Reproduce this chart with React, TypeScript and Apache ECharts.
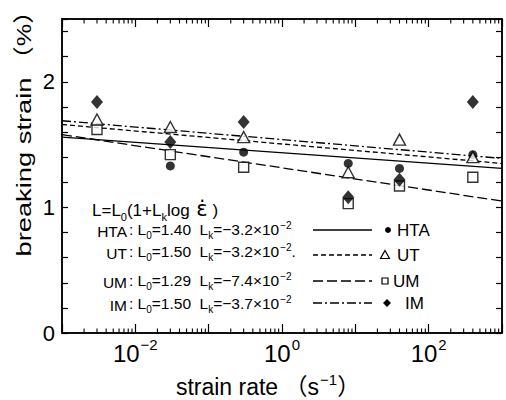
import React, { useEffect, useRef } from 'react';
import * as echarts from 'echarts';

// ---- data ----
const strainRates = [0.003, 0.03, 0.3, 8, 40, 400];
const htaValues: (number | null)[] = [null, 1.33, 1.44, 1.35, 1.31, 1.42];
const utValues: (number | null)[] = [1.70, 1.64, 1.56, 1.28, 1.54, 1.40];
const umValues: (number | null)[] = [1.62, 1.42, 1.32, 1.03, 1.17, 1.24];
const imValues: (number | null)[] = [1.84, 1.52, 1.68, 1.08, 1.22, 1.84];

// fitted lines, values at the two ends of the axis
const fitRates = [0.001, 1000];
const htaFit = [1.56, 1.31];
const utFit = [1.66, 1.35];
const umFit = [1.58, 1.05];
const imFit = [1.69, 1.39];

// axes
const xMin = 0.001;
const xMax = 1000;
const yMin = 0;
const yMax = 2.5;
const yInterval = 0.2;
const xLabelValues = [0.01, 1, 100];
const xLabelExponents = ['−2', '0', '2'];
const yLabelValues = [0, 1, 2];
const decades = [0.001, 0.01, 0.1, 1, 10, 100];
const minorSteps = [2, 3, 4, 5, 6, 7, 8, 9];

// legend block
const legendNames = ['HTA', 'UT', 'UM', 'IM'];
const legendL0 = ['1.40', '1.50', '1.29', '1.50'];
const legendLk = ['−3.2', '−3.2', '−7.4', '−3.7'];
const legendTail = ['', '.', '', ''];

const FONT = '"Liberation Sans", Arial, Helvetica, "Noto Sans CJK JP", sans-serif';
const INK = '#000';

const pairs = (vals: (number | null)[]) =>
  strainRates.map((x, i) => [x, vals[i]]).filter((p) => p[1] != null);
const fitPairs = (vals: number[]) => fitRates.map((x, i) => [x, vals[i]]);

export default function App() {
  const ref = useRef<HTMLDivElement>(null);

  useEffect(() => {
    if (!ref.current) return;
    const chart = echarts.init(ref.current, undefined, { renderer: 'svg' });

    const minorTickValues: number[] = [];
    decades.forEach((d) => minorSteps.forEach((m) => minorTickValues.push(d * m)));

    const axisLineStyle = { color: INK, width: 1.5 };
    const tickStyle = { color: INK, width: 1.2 };

    const xLabelFormatter = (v: number) => {
      const idx = xLabelValues.findIndex((lv) => Math.abs(Math.log10(v) - Math.log10(lv)) < 1e-6);
      return idx >= 0 ? `{b|10}{s|${xLabelExponents[idx]}}` : '';
    };
    const yLabelFormatter = (v: number) => {
      const idx = yLabelValues.findIndex((lv) => Math.abs(v - lv) < 1e-6);
      return idx >= 0 ? String(yLabelValues[idx]) : '';
    };

    const rowRich = {
      t: { fontSize: 15.5, fontFamily: FONT, fill: INK, verticalAlign: 'top', padding: [4, 0, 0, 0] },
      sb: { fontSize: 10, fontFamily: FONT, fill: INK, verticalAlign: 'top', padding: [12, 0, 0, 0] },
      sp: { fontSize: 10, fontFamily: FONT, fill: INK, verticalAlign: 'top', padding: [2, 0, 0, 1] },
    };

    const rowY = [229, 251, 280, 303];
    const lineY = [230, 255, 281, 303];
    const labelX = [397, 397, 393, 405];
    const dashes: any[] = [null, [5, 3], [10, 4], [9, 3, 2, 3]];

    const graphics: any[] = [];
    // y axis title
    graphics.push({
      type: 'text',
      x: 24,
      y: 167,
      rotation: Math.PI / 2,
      scaleX: 1.3,
      style: {
        text: 'breaking strain',
        fontSize: 21,
        fontFamily: FONT,
        fill: INK,
        textAlign: 'center',
        textVerticalAlign: 'middle',
      },
    });
    graphics.push({
      type: 'text',
      x: 24,
      y: 35,
      rotation: Math.PI / 2,
      scaleX: 1.2,
      style: {
        text: '（%）',
        fontSize: 21,
        fontFamily: FONT,
        fill: INK,
        textAlign: 'center',
        textVerticalAlign: 'middle',
      },
    });
    // x axis title
    graphics.push({
      type: 'text',
      x: 268,
      y: 385,
      style: {
        text: '{t|strain rate （s}{s|−1}{t|）}',
        fill: INK,
        textAlign: 'center',
        textVerticalAlign: 'middle',
        rich: {
          t: { fontSize: 23, fontFamily: FONT, fill: INK, verticalAlign: 'top', padding: [4, 0, 0, 0] },
          s: { fontSize: 15, fontFamily: FONT, fill: INK, verticalAlign: 'top', padding: [0, 0, 0, 1] },
        },
      },
    });
    // formula
    graphics.push({
      type: 'text',
      x: 92,
      y: 210,
      style: {
        text: '{t|L=L}{sb|0}{t|(1+L}{sb|k}{t|log }{e|ε̇}{t| )}',
        fill: INK,
        textAlign: 'left',
        textVerticalAlign: 'middle',
        rich: {
          t: { fontSize: 17, fontFamily: FONT, fill: INK, verticalAlign: 'top', padding: [4, 0, 0, 0] },
          sb: { fontSize: 11, fontFamily: FONT, fill: INK, verticalAlign: 'top', padding: [13, 0, 0, 0] },
          e: { fontSize: 21, fontFamily: '"DejaVu Sans", sans-serif', fill: INK, verticalAlign: 'top', padding: [0, 0, 0, 2] },
        },
      },
    });
    legendNames.forEach((name, i) => {
      graphics.push({
        type: 'text',
        x: 127,
        y: rowY[i],
        style: {
          text: `{t|${name}}`,
          fill: INK,
          textAlign: 'right',
          textVerticalAlign: 'middle',
          rich: rowRich,
        },
      });
      graphics.push({
        type: 'text',
        x: 129,
        y: rowY[i],
        style: {
          text: `{t|: L}{sb|0}{t|=${legendL0[i]}  L}{sb|k}{t|=${legendLk[i]}×10}{sp|−2}{t|${legendTail[i]}}`,
          fill: INK,
          textAlign: 'left',
          textVerticalAlign: 'middle',
          rich: rowRich,
        },
      });
      graphics.push({
        type: 'line',
        shape: { x1: 313, y1: lineY[i], x2: 372, y2: lineY[i] },
        style: { stroke: INK, lineWidth: 1.3, lineDash: dashes[i] || undefined },
      });
      graphics.push({
        type: 'text',
        x: labelX[i],
        y: lineY[i],
        style: {
          text: name,
          fontSize: 17,
          fontFamily: FONT,
          fill: INK,
          textAlign: 'left',
          textVerticalAlign: 'middle',
        },
      });
    });
    // legend markers
    graphics.push({ type: 'circle', shape: { cx: 388, cy: lineY[0], r: 3 }, style: { fill: INK } });
    graphics.push({
      type: 'polygon',
      shape: { points: [[385, lineY[1] - 4.5], [389.5, lineY[1] + 3.5], [380.5, lineY[1] + 3.5]] },
      style: { fill: '#fff', stroke: INK, lineWidth: 1.2 },
    });
    graphics.push({
      type: 'rect',
      shape: { x: 382, y: lineY[2] - 3, width: 6, height: 6 },
      style: { fill: '#fff', stroke: INK, lineWidth: 1.2 },
    });
    graphics.push({
      type: 'polygon',
      shape: { points: [[387, lineY[3] - 4], [391, lineY[3]], [387, lineY[3] + 4], [383, lineY[3]]] },
      style: { fill: INK },
    });

    const fitLine = (name: string, vals: number[], type: any) => ({
      name: name + ' fit',
      type: 'line',
      data: fitPairs(vals),
      symbol: 'none',
      silent: true,
      lineStyle: { color: INK, width: 1.3, type },
      z: 2,
    });

    chart.setOption({
      animation: false,
      backgroundColor: '#fff',
      grid: {
        left: 62,
        right: 4,
        top: 19,
        bottom: 67,
        show: true,
        borderColor: INK,
        borderWidth: 1.5,
        backgroundColor: 'transparent',
      },
      xAxis: [
        {
          type: 'log',
          logBase: 10,
          min: xMin,
          max: xMax,
          position: 'bottom',
          splitNumber: 6,
          axisLine: { onZero: false, lineStyle: axisLineStyle },
          axisTick: { inside: true, length: 9, lineStyle: tickStyle },
          splitLine: { show: false },
          axisLabel: {
            color: INK,
            margin: 4,
            formatter: xLabelFormatter,
            rich: {
              b: { fontSize: 24, fontFamily: FONT, color: INK, verticalAlign: 'top', padding: [5, 0, 0, 0] },
              s: { fontSize: 15, fontFamily: FONT, color: INK, verticalAlign: 'top', padding: [0, 0, 0, 1] },
            },
          },
        },
        {
          type: 'log',
          logBase: 10,
          min: xMin,
          max: xMax,
          position: 'top',
          splitNumber: 6,
          axisLine: { onZero: false, lineStyle: axisLineStyle },
          axisTick: { inside: true, length: 8, lineStyle: tickStyle },
          splitLine: { show: false },
          axisLabel: { show: false },
        },
      ],
      yAxis: [
        {
          type: 'value',
          min: yMin,
          max: yMax,
          interval: yInterval,
          position: 'left',
          axisLine: { show: true, onZero: false, lineStyle: axisLineStyle },
          axisTick: { show: true, inside: true, length: 6, lineStyle: tickStyle },
          splitLine: { show: false },
          axisLabel: {
            color: INK,
            fontSize: 22,
            fontFamily: FONT,
            margin: 7,
            formatter: yLabelFormatter,
          },
        },
        {
          type: 'value',
          min: yMin,
          max: yMax,
          interval: yInterval,
          position: 'right',
          axisLine: { show: true, onZero: false, lineStyle: axisLineStyle },
          axisTick: { show: true, inside: true, length: 6, lineStyle: tickStyle },
          splitLine: { show: false },
          axisLabel: { show: false },
        },
      ],
      series: [
        {
          name: 'minor ticks',
          type: 'custom',
          silent: true,
          clip: false,
          data: minorTickValues.map((v) => [v, yMin]),
          renderItem: (_p: any, api: any) => {
            const v = api.value(0);
            const b = api.coord([v, yMin]);
            const t = api.coord([v, yMax]);
            return {
              type: 'group',
              children: [
                { type: 'line', shape: { x1: b[0], y1: b[1], x2: b[0], y2: b[1] - 4.5 }, style: { stroke: INK, lineWidth: 1.1 } },
                { type: 'line', shape: { x1: t[0], y1: t[1], x2: t[0], y2: t[1] + 4.5 }, style: { stroke: INK, lineWidth: 1.1 } },
              ],
            };
          },
        },
        fitLine('HTA', htaFit, 'solid'),
        fitLine('UT', utFit, [5, 3]),
        fitLine('UM', umFit, [10, 4]),
        fitLine('IM', imFit, [9, 3, 2, 3]),
        {
          name: 'UM',
          type: 'scatter',
          data: pairs(umValues),
          symbol: 'rect',
          symbolSize: 10,
          itemStyle: { color: '#fff', borderColor: INK, borderWidth: 1.4 },
          z: 3,
        },
        {
          name: 'HTA',
          type: 'scatter',
          data: pairs(htaValues),
          symbol: 'circle',
          symbolSize: 9,
          itemStyle: { color: INK },
          z: 3,
        },
        {
          name: 'UT',
          type: 'scatter',
          data: pairs(utValues),
          symbol: 'triangle',
          symbolSize: [12, 11],
          itemStyle: { color: '#fff', borderColor: INK, borderWidth: 1.4 },
          z: 4,
        },
        {
          name: 'IM',
          type: 'scatter',
          data: pairs(imValues),
          symbol: 'diamond',
          symbolSize: [12, 14],
          itemStyle: { color: INK },
          z: 5,
        },
      ],
      graphic: graphics,
    });

    return () => chart.dispose();
  }, []);

  return <div ref={ref} style={{ position: 'absolute', left: 0, top: 0, width: 506, height: 400 }} />;
}
